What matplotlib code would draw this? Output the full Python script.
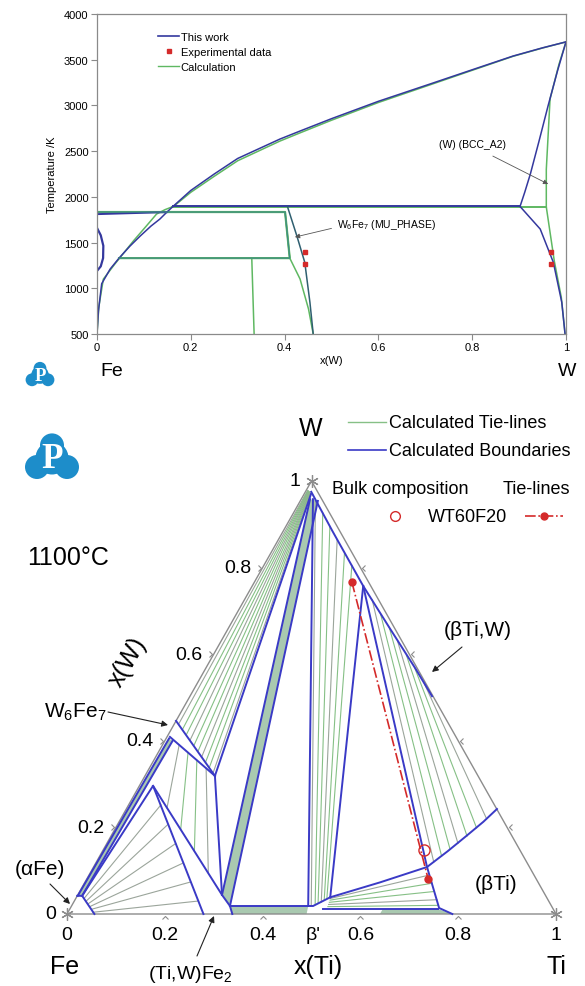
import numpy as np
import matplotlib
matplotlib.use("agg")
import matplotlib.pyplot as plt
from matplotlib.patches import Circle, Polygon
from matplotlib.lines import Line2D
from matplotlib.path import Path

plt.rcParams["font.family"] = ["Liberation Sans", "DejaVu Sans"]
plt.rcParams["mathtext.fontset"] = "custom"
plt.rcParams["mathtext.rm"] = "Liberation Sans"
plt.rcParams["mathtext.default"] = "regular"

W_PX, H_PX = 585, 987

# ---------------- binary Fe-W data (x(W), T/K) ----------------
liq_x = [0.162, 0.20, 0.25, 0.30, 0.39, 0.433, 0.50, 0.60, 0.71, 0.80, 0.887, 0.95, 1.0]
liq_T = [1895, 2070, 2250, 2420, 2632, 2720, 2855, 3045, 3234, 3390, 3540, 3630, 3695]
liq_calc_T = [1890, 2050, 2225, 2395, 2610, 2700, 2838, 3032, 3225, 3384, 3537, 3628, 3695]

bcc_x = [0, 0.003, 0.010, 0.028, 0.047, 0.070, 0.092, 0.115, 0.134, 0.149, 0.162]
bcc_T = [500, 750, 1050, 1210, 1330, 1460, 1571, 1680, 1757, 1833, 1895]
bcc_calc_x = [0, 0.004, 0.0135, 0.038, 0.078, 0.105, 0.127, 0.145, 0.160]
bcc_calc_T = [500, 800, 1100, 1265, 1520, 1680, 1812, 1860, 1890]

fe_melt_x = [0, 0.149]
fe_melt_T = [1811, 1833]

rect_x = [0, 0.401, 0.411, 0.047]
rect_T = [1834, 1834, 1330, 1330]

peri_x = [0.162, 0.902]
peri_T = [1895, 1895]
peri_calc_x = [0.160, 0.958]
peri_calc_T = [1889, 1889]

mu_right_x = [0.406, 0.426, 0.443, 0.454, 0.461]
mu_right_T = [1895, 1575, 1284, 846, 500]
mu_left_x = [0.401, 0.411, 0.433, 0.451, 0.461]
mu_left_T = [1834, 1330, 1101, 773, 500]

lam_x = [0.330, 0.335]
lam_T = [1330, 500]

gamma_x = [0, 0.008, 0.0135, 0.013, 0.008, 0]
gamma_T = [1660, 1580, 1465, 1330, 1240, 1190]

wsol_x = [0.902, 0.912, 0.924, 0.942, 0.962, 0.982, 1.0]
wsol_T = [1895, 2050, 2250, 2600, 3000, 3380, 3695]
wsol_calc_x = [0.958, 0.958, 0.966, 0.985, 1.0]
wsol_calc_T = [1889, 2300, 3070, 3450, 3695]

wsolv_x = [0.902, 0.945, 0.973, 0.991, 0.998]
wsolv_T = [1895, 1648, 1284, 846, 500]
wsolv_calc_x = [0.958, 0.975, 0.990, 0.998]
wsolv_calc_T = [1889, 1300, 900, 500]

exp_x = [0.443, 0.443, 0.969, 0.969]
exp_T = [1400, 1265, 1400, 1265]

# ---------------- ternary Fe-Ti-W at 1100 C, points as (x(Ti), x(W)) ----------------
bnd_alpha = ([0.0, 0.010, 0.056], [0.042, 0.042, 0.0])
band_am_left = ([0.001, 0.006], [0.042, 0.405])
band_am_right = ([0.010, 0.016], [0.042, 0.400])
lam_left = ([0.010, 0.028, 0.279], [0.042, 0.296, 0.0])
lam_right = ([0.028, 0.295, 0.324, 0.338], [0.296, 0.044, 0.0185, 0.0])
mu_upper = ([0.0, 0.143], [0.446, 0.319])
mu_lower = ([0.006, 0.143], [0.409, 0.319])
mu_w = ([0.143, 0.014], [0.319, 0.970])
mu_lam = ([0.143, 0.295], [0.319, 0.044])
lamw_left = ([0.295, 0.018], [0.044, 0.958])
lamw_right = ([0.324, 0.036], [0.0185, 0.954])
lam_bp = ([0.324, 0.484], [0.0185, 0.0185])
bp_w = ([0.484, 0.024], [0.0185, 0.958])
bp_small = ([0.484, 0.494, 0.519], [0.0185, 0.0185, 0.0386])
tri_b = ([0.519, 0.227], [0.0386, 0.7575])
tri_c = ([0.227, 0.682], [0.7575, 0.1085])
w_bound = ([0.012, 0.10, 0.227, 0.33, 0.43, 0.495], [0.975, 0.885, 0.7575, 0.66, 0.566, 0.503])
bti_curve = ([0.519, 0.604, 0.682, 0.706, 0.727, 0.745, 0.758],
             [0.0386, 0.0732, 0.1085, 0.145, 0.181, 0.213, 0.2425])
bti_lower = ([0.682, 0.754, 0.788], [0.1085, 0.0139, 0.0])
bottom_line = ([0.518, 0.753], [0.0115, 0.0115])
boundaries = [bnd_alpha, band_am_left, band_am_right, lam_left, lam_right, mu_upper,
              mu_lower, mu_w, mu_lam, lamw_left, lamw_right, lam_bp, bp_w, bp_small,
              tri_b, tri_c, w_bound, bti_curve, bti_lower, bottom_line]

fill_am = ([0.001, 0.006, 0.016, 0.010], [0.042, 0.405, 0.400, 0.042])
fill_lamw = ([0.295, 0.018, 0.036, 0.324], [0.044, 0.958, 0.954, 0.0185])
fill_lambp = ([0.324, 0.484, 0.490, 0.338], [0.0185, 0.0185, 0.0, 0.0])
fill_btib = ([0.64, 0.753, 0.788, 0.64], [0.0115, 0.0115, 0.0, 0.0])

# tie-lines: start (ti, w) -> end (ti, w)
muw_s_ti = [0.009, 0.023, 0.037, 0.051, 0.065, 0.080, 0.094, 0.108, 0.122, 0.136]
muw_s_w = [0.440, 0.427, 0.414, 0.401, 0.389, 0.376, 0.363, 0.351, 0.338, 0.325]
muw_e_ti = [0.003, 0.004, 0.005, 0.006, 0.007, 0.008, 0.009, 0.010, 0.011, 0.012]
muw_e_w = [0.978, 0.977, 0.977, 0.976, 0.975, 0.975, 0.974, 0.973, 0.972, 0.971]

mul_s_ti = [0.034, 0.061, 0.088, 0.116]
mul_s_w = [0.391, 0.373, 0.355, 0.337]
mul_e_ti = [0.082, 0.135, 0.188, 0.242]
mul_e_w = [0.245, 0.195, 0.145, 0.094]

al_s_ti = [0.017, 0.024, 0.031, 0.038, 0.045, 0.051]
al_s_w = [0.036, 0.029, 0.023, 0.017, 0.011, 0.004]
al_e_ti = [0.066, 0.103, 0.141, 0.179, 0.216, 0.254]
al_e_w = [0.252, 0.207, 0.163, 0.118, 0.074, 0.030]

bw_s_ti = [0.489, 0.496, 0.501, 0.506, 0.510, 0.513]
bw_s_w = [0.021, 0.023, 0.025, 0.028, 0.032, 0.037]
bw_e_ti = [0.03, 0.06, 0.09, 0.12, 0.15, 0.18]
bw_e_w = [0.956, 0.926, 0.895, 0.865, 0.835, 0.805]

mg_s_ti = [0.261, 0.294, 0.328, 0.361, 0.395, 0.428, 0.462]
mg_s_w = [0.726, 0.694, 0.662, 0.630, 0.598, 0.567, 0.535]
mg_e_ti = [0.690, 0.699, 0.709, 0.718, 0.728, 0.738, 0.748]
mg_e_w = [0.120, 0.134, 0.149, 0.163, 0.180, 0.199, 0.220]

bb_s_ti = [0.521, 0.522, 0.523, 0.524, 0.525]
bb_s_w = [0.036, 0.032, 0.027, 0.022, 0.017]
bb_e_ti = [0.696, 0.711, 0.725, 0.740, 0.749]
bb_e_w = [0.090, 0.071, 0.052, 0.033, 0.020]

red_tie_ti = [0.199, 0.698]
red_tie_w = [0.767, 0.081]
bulk_ti = [0.656]
bulk_w = [0.148]

tick_vals = [0.2, 0.4, 0.6, 0.8]
label_vals = [0, 0.2, 0.4, 0.6, 0.8, 1]
label_txt = ["0", "0.2", "0.4", "0.6", "0.8", "1"]

blue_bin = "#34389e"
green_bin = "#5fb862"
red = "#d42a2a"
blue_t = "#3a3ac6"
tie_green = "#86c086"
tie_gray = "#9ba59b"
fill_c = "#a9c9b0"
edge_gray = "#8c8c8c"
logo_blue = "#1d8dca"


def fpx(px, py):
    return px / W_PX, 1 - py / H_PX


def tern(ti, w):
    ti = np.asarray(ti, float)
    w = np.asarray(w, float)
    return ti + w / 2, w


def draw_logo(cx, cy, size):
    lax = fig.add_axes([(cx - size / 2) / W_PX, 1 - (cy + size / 2) / H_PX,
                        size / W_PX, size / H_PX])
    lax.set_xlim(-1, 1)
    lax.set_ylim(-1, 1)
    lax.axis("off")
    for x, y, r in [(0, 0, 0.55), (0, 0.42, 0.4), (-0.5, -0.3, 0.4), (0.5, -0.3, 0.4)]:
        lax.add_patch(Circle((x, y), r, color=logo_blue, lw=0))
    lax.text(0, -0.02, "P", color="white", fontsize=size * 0.42, family="Liberation Serif",
             weight="bold", ha="center", va="center")


fig = plt.figure(figsize=(W_PX / 100, H_PX / 100), dpi=100)

# ================= top: binary diagram =================
ax1 = fig.add_axes([97 / W_PX, 1 - 335 / H_PX, 469 / W_PX, 320 / H_PX])
ax1.set_xlim(0, 1)
ax1.set_ylim(500, 4000)

lw_b = 1.1
# calculation (green) first
ax1.plot(liq_x, liq_calc_T, color=green_bin, lw=lw_b)
ax1.plot(bcc_calc_x, bcc_calc_T, color=green_bin, lw=lw_b)
ax1.plot(rect_x, rect_T, color=green_bin, lw=1.6)
ax1.plot(peri_calc_x, peri_calc_T, color=green_bin, lw=1.4)
ax1.plot(mu_left_x, mu_left_T, color=green_bin, lw=lw_b)
ax1.plot(lam_x, lam_T, color=green_bin, lw=lw_b)
ax1.plot(wsol_calc_x, wsol_calc_T, color=green_bin, lw=lw_b)
ax1.plot(wsolv_calc_x, wsolv_calc_T, color=green_bin, lw=lw_b)
# this work (blue)
ax1.plot(liq_x, liq_T, color=blue_bin, lw=lw_b)
ax1.plot(bcc_x, bcc_T, color=blue_bin, lw=lw_b)
ax1.plot(fe_melt_x, fe_melt_T, color=blue_bin, lw=1.4)
ax1.plot(rect_x, rect_T, color="#3f8c86", lw=0.9)
ax1.plot(peri_x, peri_T, color=blue_bin, lw=1.4)
ax1.plot(mu_right_x, mu_right_T, color="#2f5f70", lw=lw_b)
ax1.plot(gamma_x, gamma_T, color=blue_bin, lw=1.6)
ax1.plot(wsol_x, wsol_T, color=blue_bin, lw=lw_b)
ax1.plot(wsolv_x, wsolv_T, color=blue_bin, lw=lw_b)
ax1.plot(exp_x, exp_T, ls="none", marker="s", ms=3, color=red)

for s in ax1.spines.values():
    s.set_color("#8a8a8a")
    s.set_linewidth(0.9)
ax1.set_xticks([0, 0.2, 0.4, 0.6, 0.8, 1])
ax1.set_xticklabels(["0", "0.2", "0.4", "0.6", "0.8", "1"])
ax1.set_yticks(range(500, 4001, 500))
ax1.tick_params(direction="out", length=4, width=0.8, color="#8a8a8a", labelsize=8, pad=2)
ax1.set_ylabel("Temperature /K", fontsize=8, labelpad=5)
ax1.set_xlabel("x(W)", fontsize=8, labelpad=2)

handles = [Line2D([], [], color=blue_bin, lw=1.2),
           Line2D([], [], ls="none", marker="s", ms=3, color=red),
           Line2D([], [], color=green_bin, lw=1.0)]
ax1.legend(handles, ["This work", "Experimental data", "Calculation"], loc="upper left",
           bbox_to_anchor=(0.13, 0.945), frameon=False, fontsize=8, borderpad=0,
           borderaxespad=0, handlelength=1.9, handletextpad=0.15, labelspacing=0.45)

arr = dict(arrowstyle="-|>", color="#555555", lw=0.6, mutation_scale=7, shrinkA=0, shrinkB=0)
ax1.annotate("", xy=(0.962, 2140), xytext=(0.844, 2446), arrowprops=arr)
ax1.text(0.80, 2578, "(W) (BCC_A2)", fontsize=7.5, ha="center", va="center")
ax1.annotate("", xy=(0.422, 1560), xytext=(0.50, 1655), arrowprops=arr)
ax1.text(0.512, 1703, "W$_6$Fe$_7$ (MU_PHASE)", fontsize=7.5, ha="left", va="center")

fig.text(*fpx(112, 372), "Fe", fontsize=14, ha="center", va="center")
fig.text(*fpx(567, 372), "W", fontsize=14, ha="center", va="center")
draw_logo(40, 376, 32)

# ================= bottom: ternary section =================
ax2 = fig.add_axes([0, 0, 1, 567 / H_PX])
ax2.set_xlim(-67 / 489, (W_PX - 67) / 489)
ax2.set_ylim((915 - H_PX) / 433, (915 - 420) / 433)
ax2.axis("off")

for poly in [fill_am, fill_lamw, fill_lambp, fill_btib]:
    X, Y = tern(*poly)
    ax2.add_patch(Polygon(np.column_stack([X, Y]), closed=True, fc=fill_c, ec="none"))

tie_sets = [
    (muw_s_ti, muw_s_w, muw_e_ti, muw_e_w),
    (mul_s_ti, mul_s_w, mul_e_ti, mul_e_w),
    (al_s_ti, al_s_w, al_e_ti, al_e_w),
    (bw_s_ti, bw_s_w, bw_e_ti, bw_e_w),
    (mg_s_ti, mg_s_w, mg_e_ti, mg_e_w),
    (bb_s_ti, bb_s_w, bb_e_ti, bb_e_w),
]
for k, (sti, sw, eti, ew) in enumerate(tie_sets):
    for i in range(len(sti)):
        X, Y = tern([sti[i], eti[i]], [sw[i], ew[i]])
        c = tie_gray if (i % 3 == 0 or k == 2) else tie_green
        ax2.plot(X, Y, color=c, lw=0.8)

for ti, w in boundaries:
    X, Y = tern(ti, w)
    ax2.plot(X, Y, color=blue_t, lw=1.4, solid_joinstyle="miter")

# triangle frame
X, Y = tern([0, 1, 0, 0], [0, 0, 1, 0])
ax2.plot(X, Y, color=edge_gray, lw=1.0, zorder=1)
ax2.plot(X[:3], Y[:3], ls="none", marker=(6, 2, 0), ms=9, mec=edge_gray, mew=0.9)

chev = np.array([[-3, -5], [0, -2], [3, -5]], float)


def chevron(angle_deg):
    a = np.deg2rad(angle_deg)
    rot = np.array([[np.cos(a), -np.sin(a)], [np.sin(a), np.cos(a)]])
    return Path(chev @ rot.T, [Path.MOVETO, Path.LINETO, Path.LINETO])


tv = np.array(tick_vals)
for (ti, w, ang) in [(tv, 0 * tv, 0), (0 * tv, tv, -90), (1 - tv, tv, 90)]:
    X, Y = tern(ti, w)
    ax2.plot(X, Y, ls="none", marker=chevron(ang), ms=7.2, mfc="none", mec=edge_gray, mew=0.8)

lv = np.array(label_vals)
for v, t in zip(lv, label_txt):
    X, Y = tern(0, v)
    ax2.annotate(t, xy=(X, Y), xytext=(-8, 0), textcoords="offset points",
                 ha="right", va="center", fontsize=14)
    X, Y = tern(v, 0)
    ax2.annotate(t, xy=(X, Y), xytext=(0, -14.5), textcoords="offset points",
                 ha="center", va="center", fontsize=14)
X, Y = tern(0.5, 0)
ax2.annotate("β'", xy=(X, Y), xytext=(1, -14.5), textcoords="offset points",
             ha="center", va="center", fontsize=14)

# red tie-line and bulk composition
X, Y = tern(red_tie_ti, red_tie_w)
ax2.plot(X, Y, color=red, ls="-.", lw=1.2, marker="o", ms=5, zorder=5)
X, Y = tern(bulk_ti, bulk_w)
ax2.plot(X, Y, ls="none", marker="o", ms=8, mfc="none", mec=red, mew=1.0, zorder=6)

# corner / axis labels
fig.text(*fpx(311, 429), "W", fontsize=18, ha="center", va="center")
fig.text(*fpx(65, 967), "Fe", fontsize=18, ha="center", va="center")
fig.text(*fpx(556, 967), "Ti", fontsize=18, ha="center", va="center")
fig.text(*fpx(318, 967), "x(Ti)", fontsize=18, ha="center", va="center")
fig.text(*fpx(128, 662), "x(W)", fontsize=18, ha="center", va="center", rotation=60)
fig.text(*fpx(68, 558), "1100°C", fontsize=18, ha="center", va="center")

# phase labels
tarr = dict(arrowstyle="-|>", color="#222222", lw=0.8, mutation_scale=9, shrinkA=0, shrinkB=0)
fig.text(*fpx(478, 630), "(βTi,W)", fontsize=15, ha="center", va="center")
ax2.annotate("", xy=fpx(432, 673), xytext=fpx(462, 648), xycoords="figure fraction",
             textcoords="figure fraction", arrowprops=tarr)
fig.text(*fpx(75, 712), "W$_6$Fe$_7$", fontsize=15, ha="center", va="center")
ax2.annotate("", xy=fpx(168, 726), xytext=fpx(108, 713), xycoords="figure fraction",
             textcoords="figure fraction", arrowprops=tarr)
fig.text(*fpx(40, 870), "(αFe)", fontsize=15, ha="center", va="center")
ax2.annotate("", xy=fpx(70, 905), xytext=fpx(50, 885), xycoords="figure fraction",
             textcoords="figure fraction", arrowprops=tarr)
fig.text(*fpx(190, 975), "(Ti,W)Fe$_2$", fontsize=14, ha="center", va="center")
ax2.annotate("", xy=fpx(214, 917), xytext=fpx(197, 957), xycoords="figure fraction",
             textcoords="figure fraction", arrowprops=tarr)
fig.text(*fpx(496, 885), "(βTi)", fontsize=15, ha="center", va="center")

# legend of the ternary
for py, c, lab in [(423, tie_green, "Calculated Tie-lines"), (451, blue_t, "Calculated Boundaries")]:
    x0, y0 = fpx(348, py)
    x1, _ = fpx(386, py)
    fig.add_artist(Line2D([x0, x1], [y0, y0], color=c, lw=1.2 if c == blue_t else 1.0))
    fig.text(*fpx(389, py), lab, fontsize=13, ha="left", va="center")
fig.text(*fpx(400, 490), "Bulk composition", fontsize=13, ha="center", va="center")
fig.text(*fpx(536, 490), "Tie-lines", fontsize=13, ha="center", va="center")
fig.add_artist(Line2D([fpx(395, 517)[0]], [fpx(395, 517)[1]], ls="none", marker="o", ms=7,
                      mfc="none", mec=red, mew=1.0))
fig.text(*fpx(468, 517), "WT60F20", fontsize=13, ha="center", va="center")
xa, ya = fpx(525, 517)
xb, _ = fpx(563, 517)
fig.add_artist(Line2D([xa, xb], [ya, ya], color=red, ls="-.", lw=1.2))
fig.add_artist(Line2D([(xa + xb) / 2], [ya], ls="none", marker="o", ms=5, color=red))

draw_logo(52, 459, 60)

fig.savefig("out.png", dpi=100)
